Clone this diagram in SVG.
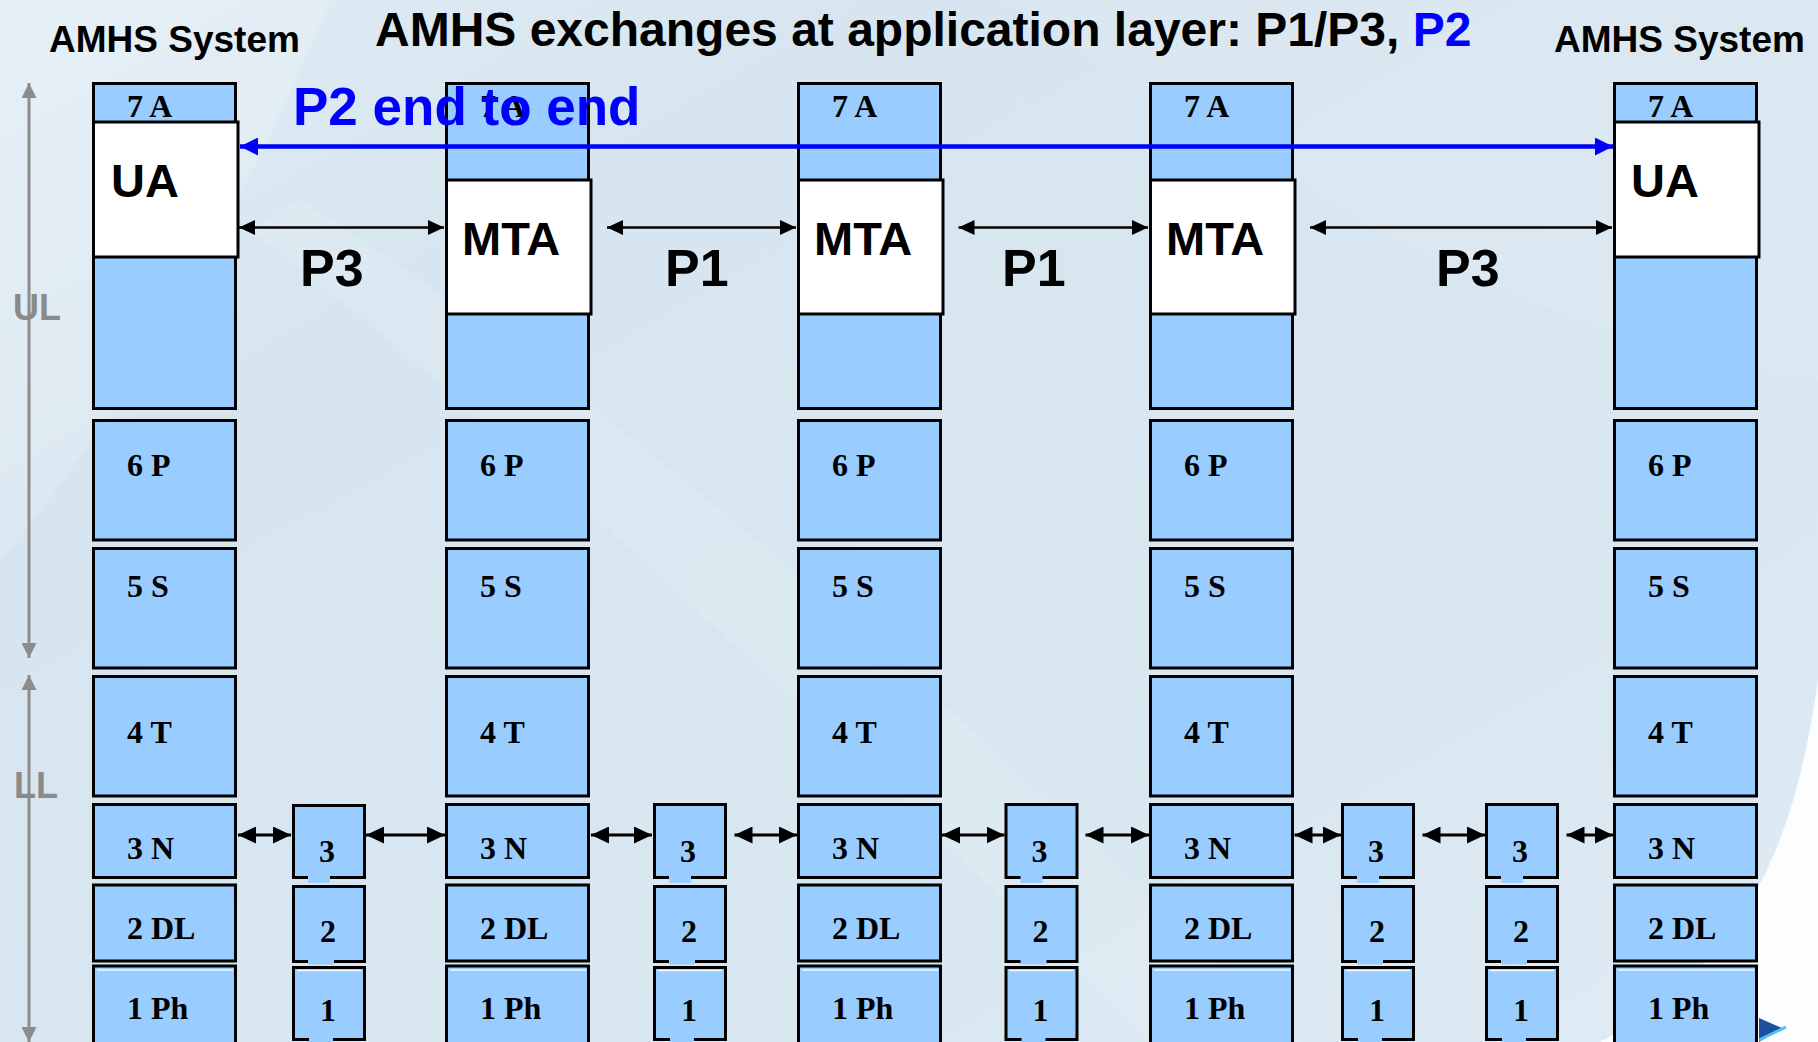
<svg xmlns="http://www.w3.org/2000/svg" width="1818" height="1042" viewBox="0 0 1818 1042">
<defs>
<linearGradient id="bg" x1="0" y1="0" x2="1" y2="1">
<stop offset="0" stop-color="#e2edf5"/>
<stop offset="0.25" stop-color="#d6e5ef"/>
<stop offset="0.7" stop-color="#d9e7f1"/>
<stop offset="1" stop-color="#dfebf4"/>
</linearGradient>
<marker id="ah" markerUnits="userSpaceOnUse" viewBox="0 0 16 15" refX="16" refY="7.5" markerWidth="16" markerHeight="15" orient="auto-start-reverse"><path d="M0,0 L16,7.5 L0,15 z" fill="#000"/></marker>
<marker id="ahL" markerUnits="userSpaceOnUse" viewBox="0 0 18 17" refX="18" refY="8.5" markerWidth="18" markerHeight="17" orient="auto-start-reverse"><path d="M0,0 L18,8.5 L0,17 z" fill="#000"/></marker>
<marker id="ahB" markerUnits="userSpaceOnUse" viewBox="0 0 18 18" refX="18" refY="9" markerWidth="18" markerHeight="18" orient="auto-start-reverse"><path d="M0,0 L18,9 L0,18 z" fill="#0000ff"/></marker>
<marker id="ahG" markerUnits="userSpaceOnUse" viewBox="0 0 15 15" refX="15" refY="7.5" markerWidth="15" markerHeight="15" orient="auto-start-reverse"><path d="M0,0 L15,7.5 L0,15 z" fill="#8c8c8c"/></marker>
<style>
.layer{fill:#99ccff;stroke:#000;stroke-width:3}
.agent{fill:#fff;stroke:#000;stroke-width:3}
.notch{fill:#99ccff}
.hl{stroke:#eef7ff;stroke-width:1.3}
.lbl{font-family:"Liberation Serif","Times New Roman",serif;font-weight:bold;font-size:32px;fill:#000}
.num{font-family:"Liberation Serif","Times New Roman",serif;font-weight:bold;font-size:32px;fill:#000;text-anchor:middle}
.sans{font-family:"Liberation Sans",Arial,sans-serif;font-weight:bold;fill:#000}
.agt{font-size:47px}
.proto{font-size:52px}
.conn{stroke:#000;stroke-width:2.5;fill:none}
.connL{stroke:#000;stroke-width:3;fill:none}
.gray{stroke:#8c8c8c;stroke-width:3;fill:none}
</style>
</defs>

<g id="background">
<rect width="1818" height="1042" fill="url(#bg)"/>
<path d="M0,0 L330,0 C250,200 120,420 0,560 Z" fill="#ffffff" opacity="0.18"/>
<path d="M250,230 C500,420 800,700 1150,1042 L1300,1042 C950,700 620,400 300,200 Z" fill="#ffffff" opacity="0.12"/>
<path d="M1000,0 C1250,150 1450,320 1818,380 L1818,0 Z" fill="#ffffff" opacity="0.1"/>
<path d="M1818,680 C1795,840 1750,960 1600,1042 L1818,1042 Z" fill="#ffffff" opacity="0.9"/>
<path d="M1759,1018 L1782,1028 L1759,1042 Z" fill="#1d4f9c"/>
<path d="M1759,1040 L1786,1027" stroke="#4fc3f0" stroke-width="3"/>
</g>

<g id="side-arrows">
<line class="gray" x1="29" y1="658" x2="29" y2="83" marker-start="url(#ahG)" marker-end="url(#ahG)"/>
<line class="gray" x1="29" y1="675" x2="29" y2="1042" marker-start="url(#ahG)" marker-end="url(#ahG)"/>
<text x="13" y="320" font-family="Liberation Sans, Arial, sans-serif" font-weight="bold" font-size="36" fill="#8a8a8a">UL</text>
<text x="14" y="798" font-family="Liberation Sans, Arial, sans-serif" font-weight="bold" font-size="36" fill="#8a8a8a">LL</text>
</g>

<g id="titles">
<text class="sans" x="49" y="52" font-size="37">AMHS System</text>
<text class="sans" x="1554" y="52" font-size="37">AMHS System</text>
<text class="sans" x="375" y="46" font-size="48">AMHS exchanges at application layer: P1/P3, <tspan fill="#0000ff">P2</tspan></text>
</g>

<!-- Column 1: AMHS System (UA) -->
<g id="col1">
<g id="col1-l7"><rect class="layer" x="93.5" y="83.5" width="142" height="325"/><text class="lbl" x="127" y="117">7 A</text></g>
<g id="col1-ua"><rect class="agent" x="93.5" y="122" width="144.5" height="135"/><text class="sans agt" x="111" y="197">UA</text></g>
<g id="col1-l6"><rect class="layer" x="93.5" y="420.5" width="142" height="119.5"/><text class="lbl" x="127" y="476">6 P</text></g>
<g id="col1-l5"><rect class="layer" x="93.5" y="548.5" width="142" height="119.5"/><text class="lbl" x="127" y="597">5 S</text></g>
<g id="col1-l4"><rect class="layer" x="93.5" y="676.5" width="142" height="119.5"/><text class="lbl" x="127" y="743">4 T</text></g>
<g id="col1-l3"><rect class="layer" x="93.5" y="804.5" width="142" height="73"/><text class="lbl" x="127" y="858.5">3 N</text></g>
<g id="col1-l2"><rect class="layer" x="93.5" y="885" width="142" height="76"/><text class="lbl" x="127" y="938.5">2 DL</text></g>
<g id="col1-l1"><rect class="layer" x="93.5" y="966" width="142" height="100"/><line class="hl" x1="97" y1="970" x2="233" y2="970"/><text class="lbl" x="127" y="1018.5">1 Ph</text></g>
</g>

<!-- Column 2: MTA -->
<g id="col2">
<g id="col2-l7"><rect class="layer" x="446.5" y="83.5" width="142" height="325"/><text class="lbl" x="480" y="117">7 A</text></g>
<g id="col2-mta"><rect class="agent" x="446.5" y="180" width="144.5" height="134"/><text class="sans agt" x="462" y="255">MTA</text></g>
<g id="col2-l6"><rect class="layer" x="446.5" y="420.5" width="142" height="119.5"/><text class="lbl" x="480" y="476">6 P</text></g>
<g id="col2-l5"><rect class="layer" x="446.5" y="548.5" width="142" height="119.5"/><text class="lbl" x="480" y="597">5 S</text></g>
<g id="col2-l4"><rect class="layer" x="446.5" y="676.5" width="142" height="119.5"/><text class="lbl" x="480" y="743">4 T</text></g>
<g id="col2-l3"><rect class="layer" x="446.5" y="804.5" width="142" height="73"/><text class="lbl" x="480" y="858.5">3 N</text></g>
<g id="col2-l2"><rect class="layer" x="446.5" y="885" width="142" height="76"/><text class="lbl" x="480" y="938.5">2 DL</text></g>
<g id="col2-l1"><rect class="layer" x="446.5" y="966" width="142" height="100"/><line class="hl" x1="450" y1="970" x2="586" y2="970"/><text class="lbl" x="480" y="1018.5">1 Ph</text></g>
</g>

<!-- Column 3: MTA -->
<g id="col3">
<g id="col3-l7"><rect class="layer" x="798.5" y="83.5" width="142" height="325"/><text class="lbl" x="832" y="117">7 A</text></g>
<g id="col3-mta"><rect class="agent" x="798.5" y="180" width="144.5" height="134"/><text class="sans agt" x="814" y="255">MTA</text></g>
<g id="col3-l6"><rect class="layer" x="798.5" y="420.5" width="142" height="119.5"/><text class="lbl" x="832" y="476">6 P</text></g>
<g id="col3-l5"><rect class="layer" x="798.5" y="548.5" width="142" height="119.5"/><text class="lbl" x="832" y="597">5 S</text></g>
<g id="col3-l4"><rect class="layer" x="798.5" y="676.5" width="142" height="119.5"/><text class="lbl" x="832" y="743">4 T</text></g>
<g id="col3-l3"><rect class="layer" x="798.5" y="804.5" width="142" height="73"/><text class="lbl" x="832" y="858.5">3 N</text></g>
<g id="col3-l2"><rect class="layer" x="798.5" y="885" width="142" height="76"/><text class="lbl" x="832" y="938.5">2 DL</text></g>
<g id="col3-l1"><rect class="layer" x="798.5" y="966" width="142" height="100"/><line class="hl" x1="802" y1="970" x2="938" y2="970"/><text class="lbl" x="832" y="1018.5">1 Ph</text></g>
</g>

<!-- Column 4: MTA -->
<g id="col4">
<g id="col4-l7"><rect class="layer" x="1150.5" y="83.5" width="142" height="325"/><text class="lbl" x="1184" y="117">7 A</text></g>
<g id="col4-mta"><rect class="agent" x="1150.5" y="180" width="144.5" height="134"/><text class="sans agt" x="1166" y="255">MTA</text></g>
<g id="col4-l6"><rect class="layer" x="1150.5" y="420.5" width="142" height="119.5"/><text class="lbl" x="1184" y="476">6 P</text></g>
<g id="col4-l5"><rect class="layer" x="1150.5" y="548.5" width="142" height="119.5"/><text class="lbl" x="1184" y="597">5 S</text></g>
<g id="col4-l4"><rect class="layer" x="1150.5" y="676.5" width="142" height="119.5"/><text class="lbl" x="1184" y="743">4 T</text></g>
<g id="col4-l3"><rect class="layer" x="1150.5" y="804.5" width="142" height="73"/><text class="lbl" x="1184" y="858.5">3 N</text></g>
<g id="col4-l2"><rect class="layer" x="1150.5" y="885" width="142" height="76"/><text class="lbl" x="1184" y="938.5">2 DL</text></g>
<g id="col4-l1"><rect class="layer" x="1150.5" y="966" width="142" height="100"/><line class="hl" x1="1154" y1="970" x2="1290" y2="970"/><text class="lbl" x="1184" y="1018.5">1 Ph</text></g>
</g>

<!-- Column 5: AMHS System (UA) -->
<g id="col5">
<g id="col5-l7"><rect class="layer" x="1614.5" y="83.5" width="142" height="325"/><text class="lbl" x="1648" y="117">7 A</text></g>
<g id="col5-ua"><rect class="agent" x="1614.5" y="122" width="144.5" height="135"/><text class="sans agt" x="1631" y="197">UA</text></g>
<g id="col5-l6"><rect class="layer" x="1614.5" y="420.5" width="142" height="119.5"/><text class="lbl" x="1648" y="476">6 P</text></g>
<g id="col5-l5"><rect class="layer" x="1614.5" y="548.5" width="142" height="119.5"/><text class="lbl" x="1648" y="597">5 S</text></g>
<g id="col5-l4"><rect class="layer" x="1614.5" y="676.5" width="142" height="119.5"/><text class="lbl" x="1648" y="743">4 T</text></g>
<g id="col5-l3"><rect class="layer" x="1614.5" y="804.5" width="142" height="73"/><text class="lbl" x="1648" y="858.5">3 N</text></g>
<g id="col5-l2"><rect class="layer" x="1614.5" y="885" width="142" height="76"/><text class="lbl" x="1648" y="938.5">2 DL</text></g>
<g id="col5-l1"><rect class="layer" x="1614.5" y="966" width="142" height="100"/><line class="hl" x1="1618" y1="970" x2="1754" y2="970"/><text class="lbl" x="1648" y="1018.5">1 Ph</text></g>
</g>

<!-- Relay stacks (layers 1-3) -->
<g id="relay1">
<rect class="layer" x="293.5" y="805.5" width="71" height="72"/><rect class="notch" x="308" y="876" width="22" height="7"/><text class="num" x="327" y="862">3</text>
<rect class="layer" x="293.5" y="886.5" width="71" height="75"/><rect class="notch" x="308" y="960" width="26" height="4.5"/><text class="num" x="328" y="942">2</text>
<rect class="layer" x="293.5" y="967.5" width="71" height="72"/><line class="hl" x1="297" y1="970.5" x2="361" y2="970.5"/><rect class="notch" x="309" y="1038" width="24" height="4"/><text class="num" x="328" y="1021">1</text>
</g>
<g id="relay2">
<rect class="layer" x="654.5" y="804.5" width="71" height="73"/><rect class="notch" x="669" y="876" width="22" height="7"/><text class="num" x="688" y="862">3</text>
<rect class="layer" x="654.5" y="886.5" width="71" height="75"/><rect class="notch" x="669" y="960" width="26" height="4.5"/><text class="num" x="689" y="942">2</text>
<rect class="layer" x="654.5" y="967.5" width="71" height="72"/><line class="hl" x1="658" y1="970.5" x2="722" y2="970.5"/><rect class="notch" x="670" y="1038" width="24" height="4"/><text class="num" x="689" y="1021">1</text>
</g>
<g id="relay3">
<rect class="layer" x="1006" y="804.5" width="71" height="73"/><rect class="notch" x="1020.5" y="876" width="22" height="7"/><text class="num" x="1039.5" y="862">3</text>
<rect class="layer" x="1006" y="886.5" width="71" height="75"/><rect class="notch" x="1020.5" y="960" width="26" height="4.5"/><text class="num" x="1040.5" y="942">2</text>
<rect class="layer" x="1006" y="967.5" width="71" height="72"/><line class="hl" x1="1009.5" y1="970.5" x2="1073.5" y2="970.5"/><rect class="notch" x="1021.5" y="1038" width="24" height="4"/><text class="num" x="1040.5" y="1021">1</text>
</g>
<g id="relay4">
<rect class="layer" x="1342.5" y="804.5" width="71" height="73"/><rect class="notch" x="1357" y="876" width="22" height="7"/><text class="num" x="1376" y="862">3</text>
<rect class="layer" x="1342.5" y="886.5" width="71" height="75"/><rect class="notch" x="1357" y="960" width="26" height="4.5"/><text class="num" x="1377" y="942">2</text>
<rect class="layer" x="1342.5" y="967.5" width="71" height="72"/><line class="hl" x1="1346" y1="970.5" x2="1410" y2="970.5"/><rect class="notch" x="1358" y="1038" width="24" height="4"/><text class="num" x="1377" y="1021">1</text>
</g>
<g id="relay5">
<rect class="layer" x="1486.5" y="804.5" width="71" height="73"/><rect class="notch" x="1501" y="876" width="22" height="7"/><text class="num" x="1520" y="862">3</text>
<rect class="layer" x="1486.5" y="886.5" width="71" height="75"/><rect class="notch" x="1501" y="960" width="26" height="4.5"/><text class="num" x="1521" y="942">2</text>
<rect class="layer" x="1486.5" y="967.5" width="71" height="72"/><line class="hl" x1="1490" y1="970.5" x2="1554" y2="970.5"/><rect class="notch" x="1502" y="1038" width="24" height="4"/><text class="num" x="1521" y="1021">1</text>
</g>

<g id="connectors">
<line x1="240" y1="146.5" x2="1613" y2="146.5" stroke="#0000ff" stroke-width="4.5" marker-start="url(#ahB)" marker-end="url(#ahB)"/>
<line class="conn" x1="239" y1="227.5" x2="444" y2="227.5" marker-start="url(#ah)" marker-end="url(#ah)"/>
<line class="conn" x1="607" y1="227.5" x2="796" y2="227.5" marker-start="url(#ah)" marker-end="url(#ah)"/>
<line class="conn" x1="958.5" y1="227.5" x2="1148" y2="227.5" marker-start="url(#ah)" marker-end="url(#ah)"/>
<line class="conn" x1="1310" y1="227.5" x2="1612" y2="227.5" marker-start="url(#ah)" marker-end="url(#ah)"/>
<line class="connL" x1="238" y1="835" x2="291" y2="835" marker-start="url(#ahL)" marker-end="url(#ahL)"/>
<line class="connL" x1="366" y1="835" x2="445" y2="835" marker-start="url(#ahL)" marker-end="url(#ahL)"/>
<line class="connL" x1="591" y1="835" x2="652" y2="835" marker-start="url(#ahL)" marker-end="url(#ahL)"/>
<line class="connL" x1="734.5" y1="835" x2="797" y2="835" marker-start="url(#ahL)" marker-end="url(#ahL)"/>
<line class="connL" x1="942" y1="835" x2="1004.5" y2="835" marker-start="url(#ahL)" marker-end="url(#ahL)"/>
<line class="connL" x1="1085.5" y1="835" x2="1149" y2="835" marker-start="url(#ahL)" marker-end="url(#ahL)"/>
<line class="connL" x1="1294.5" y1="835" x2="1341" y2="835" marker-start="url(#ahL)" marker-end="url(#ahL)"/>
<line class="connL" x1="1422.5" y1="835" x2="1485" y2="835" marker-start="url(#ahL)" marker-end="url(#ahL)"/>
<line class="connL" x1="1566.5" y1="835" x2="1613" y2="835" marker-start="url(#ahL)" marker-end="url(#ahL)"/>
</g>

<g id="labels">
<text class="sans" x="293" y="125" font-size="53" style="fill:#0000ff">P2 end to end</text>
<text class="sans proto" x="300" y="286">P3</text>
<text class="sans proto" x="665" y="286">P1</text>
<text class="sans proto" x="1002" y="286">P1</text>
<text class="sans proto" x="1436" y="286">P3</text>
</g>
</svg>
